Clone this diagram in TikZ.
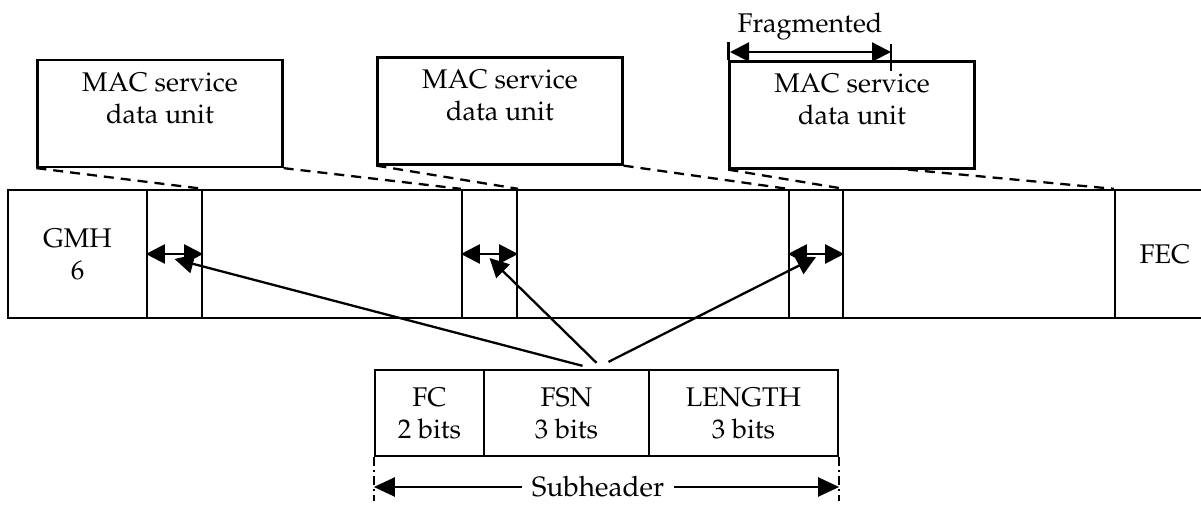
\documentclass[tikz,border=0pt]{standalone}
\usepackage[T1]{fontenc}
\usepackage{mathpazo}
\usetikzlibrary{arrows.meta}

\begin{document}
\begin{tikzpicture}[x=1pt, y=-1pt,
    every node/.style={font=\fontsize{27}{32}\selectfont},
    sdu/.style={draw, line width=2.3pt, minimum width=245pt, minimum height=107pt, align=center, inner sep=0pt, text depth=31pt},
    cell/.style={draw, line width=2.3pt, minimum height=128pt, inner sep=0pt, align=center},
    field/.style={draw, line width=2.3pt, minimum height=86pt, inner sep=0pt, align=center},
    map/.style={line width=2.3pt, dash pattern=on 10pt off 7pt},
    ptr/.style={line width=2.3pt, -{Triangle[length=19pt,width=19pt]}},
    dbl/.style={line width=2.3pt, {Triangle[length=19pt,width=19pt]}-{Triangle[length=19pt,width=19pt]}},
    dimarr/.style={line width=2.3pt, {Triangle[length=19pt,width=19pt]}-{Triangle[length=19pt,width=19pt]}},
    subarr/.style={line width=2.3pt, -{Triangle[length=21pt,width=19pt]}},
    edgetick/.style={line width=2.3pt, dash pattern=on 9pt off 4pt on 2pt off 4pt},
]
\useasboundingbox (0,0) rectangle (1201,505);

% MAC service data units (top)
\node[sdu] (sdu1) at (160,113.5) {MAC service\\data unit};
\node[sdu] (sdu2) at (500,111) {MAC service\\data unit};
\node[sdu] (sdu3) at (852,115) {MAC service\\data unit};

% MAC PDU (middle row)
\node[cell, minimum width=139pt] (gmh) at (77.5,254) {GMH\\6};
\node[cell, minimum width=55pt] (sh1) at (174.5,254) {};
\node[cell, minimum width=260pt] (data1) at (332,254) {};
\node[cell, minimum width=55pt] (sh2) at (489.5,254) {};
\node[cell, minimum width=272pt] (data2) at (653,254) {};
\node[cell, minimum width=54pt] (sh3) at (816,254) {};
\node[cell, minimum width=272pt] (data3) at (979,254) {};
\node[cell, minimum width=100pt, text depth=-8pt] (fec) at (1165,254) {FEC};

% Subheader fields (bottom)
\node[field, minimum width=109pt] (fc) at (429.5,413) {FC\\2 bits};
\node[field, minimum width=165pt] (fsn) at (566.5,413) {FSN\\3 bits};
\node[field, minimum width=189pt] (len) at (743.5,413) {LENGTH\\3 bits};

% Fragmented marker
\node (fraglbl) at (810,27) {Fragmented};
\coordinate (fragL) at (730,52);
\coordinate (fragR) at (891,52);
\coordinate (fragend) at (891,168);
\draw[line width=2.3pt] (sdu3.north west) -- ++(0,-18);
\draw[line width=2.3pt] (891,44) -- (891,71);
\draw[dimarr] (fragL) -- (fragR);

% SDUs mapped into the PDU
\draw[map] (sdu1.south west) -- (sh1.north east);
\draw[map] (sdu1.south east) -- (sh2.north west);
\draw[map] (sdu2.south west) -- (sh2.north east);
\draw[map] (sdu2.south east) -- (sh3.north west);
\draw[map] (sdu3.south west) -- (sh3.north east);
\draw[map] (fragend) -- (fec.north west);

% subheader spans
\draw[dbl] (sh1.west) -- (sh1.east);
\draw[dbl] (sh2.west) -- (sh2.east);
\draw[dbl] (sh3.west) -- (sh3.east);

\draw[ptr] ([xshift=16pt,yshift=3pt]fsn.north) -- ([yshift=-5pt]sh1.center);
\draw[ptr] ([xshift=30pt,yshift=6pt]fsn.north) -- ([yshift=-4pt]sh2.center);
\draw[ptr] ([xshift=42pt,yshift=7pt]fsn.north) -- ([yshift=-3pt]sh3.center);

% Subheader width
\node[inner ysep=2pt, inner xsep=10pt, font=\fontsize{28}{33}\selectfont] (sublbl) at (598,487) {Subheader};
\draw[edgetick] (fc.south west) -- ++(0,44);
\draw[edgetick] (len.south east) -- ++(0,44);
\draw[subarr] (sublbl.west) -- (sublbl.west -| fc.south west);
\draw[subarr] (sublbl.east) -- (sublbl.east -| len.south east);

\end{tikzpicture}
\end{document}
